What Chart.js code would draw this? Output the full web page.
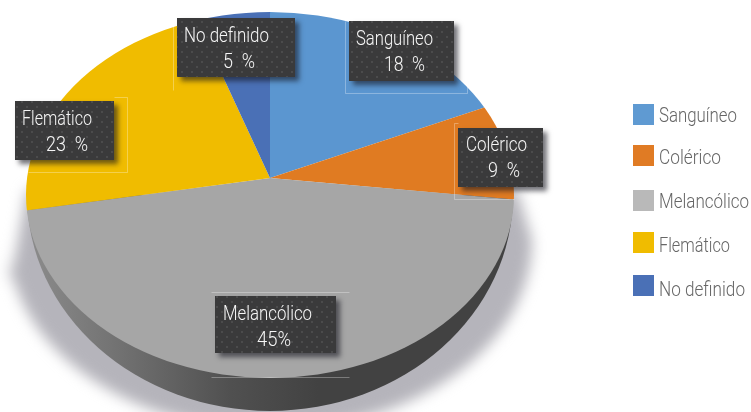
<!DOCTYPE html>
<html><head><meta charset="utf-8">
<script src="https://cdn.jsdelivr.net/npm/chart.js@4"></script>
<style>html,body{margin:0;padding:0;background:#fff}canvas{display:block}</style>
</head><body><canvas id="c" width="751" height="412"></canvas>
<script>
const categories = ["Sanguíneo","Colérico","Melancólico","Flemático","No definido"];
const values = [18, 9, 45, 23, 5];
const valueLabels = ["18  %","9  %","45%","23  %","5  %"];
const sliceColors = ["#5b96d0","#e07b22","#a6a6a6","#f0bc00","#4a70b6"];
const legendColors = ["#5f9ad2","#e07b24","#b9b9b9","#f0bc00","#4a70b6"];

const FONT = '300 21px Roboto,"Liberation Sans",sans-serif';
const apex = {x:270, y:178, sx:300, sy:210};
const top3d = {x:270, y:195, rx:244, ry:183};
const side = {rx:243, ry:216};
const legendSwatchTops = [104,145,190,232,275];
const legendBaselines = [122,164,208,252,296];
const legendWidths = [78,62,90,71,86];
const boxes = [
 {b:[349,21,105,60], f:[345,93,467,93,345,21,345,93,467,93,467,81], t:[356,45,384,71,77,41]},
 {b:[458,128,85,59], f:[454,123,458,123,454,123,454,199,454,199,514,199], t:[466,151,488,177,61,32]},
 {b:[215,296,121,57], f:[211,292,349,292,211,377,349,377], t:[223,320,257,346,89,34]},
 {b:[15,101,99,59], f:[114,97,127,97,127,97,127,172,127,172,28,172], t:[22,125,46,151,70,42]},
 {b:[177,18,118,59], f:[173,18,173,90], t:[184,42,223,68,85,32]}
];

function dots(ctx){
  const p=document.createElement('canvas');p.width=p.height=10;
  const g=p.getContext('2d');
  g.fillStyle='#3a3a3b';g.fillRect(0,0,10,10);
  g.fillStyle='#4b4b4c';
  g.fillRect(1,1,2,2);g.fillRect(6,6,2,2);
  return ctx.createPattern(p,'repeat');
}

const pie3d = {
  id:'pie3d',
  beforeDatasetsDraw(chart){
    const ctx=chart.ctx;
    ctx.save();
    ctx.filter='blur(7px)';
    ctx.fillStyle='#b5b4bb';
    ctx.beginPath();
    ctx.moveTo(27,190);
    ctx.lineTo(10,285);
    ctx.ellipse(270,240,262,190,0,Math.PI,0,true);
    ctx.lineTo(517,190);
    ctx.closePath();ctx.fill();
    ctx.restore();
    ctx.save();
    const g=ctx.createLinearGradient(top3d.x-side.rx,0,top3d.x+side.rx,0);
    g.addColorStop(0,'#8c8c8c');g.addColorStop(.2,'#707070');g.addColorStop(.42,'#505050');g.addColorStop(.6,'#424242');g.addColorStop(1,'#424242');
    ctx.fillStyle=g;
    ctx.beginPath();
    ctx.ellipse(top3d.x,top3d.y,side.rx,side.ry,0,0,Math.PI);
    ctx.closePath();ctx.fill();
    ctx.restore();
  },
  beforeDatasetDraw(chart,args){
    const ctx=chart.ctx, arcs=args.meta.data, a0=arcs[0], R=a0.outerRadius;
    ctx.save();
    ctx.beginPath();
    ctx.ellipse(top3d.x,top3d.y,top3d.rx,top3d.ry,0,0,Math.PI*2);
    ctx.clip();
    ctx.translate(apex.x,apex.y);
    ctx.scale(apex.sx/R,apex.sy/R);
    ctx.translate(-a0.x,-a0.y);
    arcs.forEach(a=>a.draw(ctx));
    ctx.restore();
    return false;
  },
  afterDraw(chart){
    const ctx=chart.ctx, pat=dots(ctx);
    const fit=(s,x,y,w)=>{
      ctx.save();
      const m=ctx.measureText(s).width;
      ctx.translate(x,y);ctx.scale(w/m,1);
      ctx.fillText(s,0,0);
      ctx.restore();
    };
    boxes.forEach((d,i)=>{
      ctx.save();
      ctx.strokeStyle='rgba(255,255,255,.3)';ctx.lineWidth=1;
      ctx.beginPath();
      for(let k=0;k<d.f.length;k+=4){ctx.moveTo(d.f[k]+.5,d.f[k+1]+.5);ctx.lineTo(d.f[k+2]+.5,d.f[k+3]+.5);}
      ctx.stroke();
      ctx.restore();
      ctx.save();
      ctx.shadowColor='rgba(20,20,30,.6)';ctx.shadowBlur=5;ctx.shadowOffsetX=4;ctx.shadowOffsetY=4;
      ctx.fillStyle='#3a3a3b';ctx.fillRect(...d.b);
      ctx.restore();
      ctx.fillStyle=pat;ctx.fillRect(...d.b);
      ctx.fillStyle='#f6f6f6';ctx.font=FONT;ctx.textBaseline='alphabetic';ctx.textAlign='left';
      fit(categories[i],d.t[0],d.t[1],d.t[4]);
      fit(valueLabels[i],d.t[2],d.t[3],d.t[5]);
    });
    categories.forEach((c,i)=>{
      ctx.fillStyle=legendColors[i];ctx.fillRect(633,legendSwatchTops[i],21,21);
      ctx.fillStyle='#666';ctx.font=FONT;ctx.textAlign='left';ctx.textBaseline='alphabetic';
      fit(c,659,legendBaselines[i],legendWidths[i]);
    });
  }
};

new Chart(document.getElementById('c'),{
  type:'pie',
  data:{labels:categories,datasets:[{data:values,backgroundColor:sliceColors,borderWidth:0}]},
  options:{responsive:false,animation:false,
    plugins:{legend:{display:false},tooltip:{enabled:false}}},
  plugins:[pie3d]
});
</script></body></html>
